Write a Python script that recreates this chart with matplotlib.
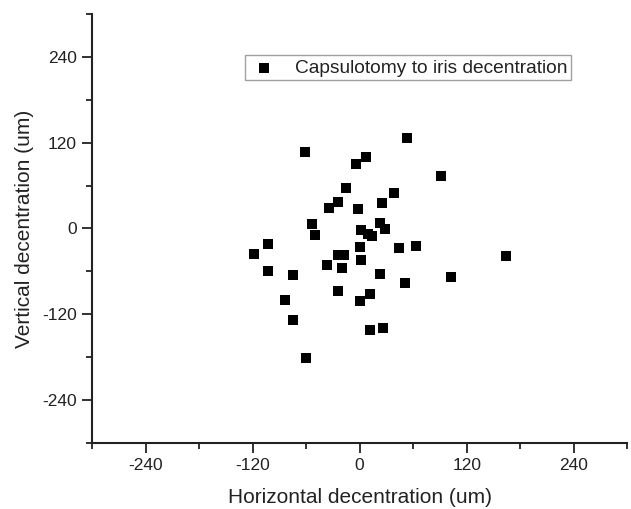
import matplotlib
matplotlib.use("Agg")
import matplotlib.pyplot as plt
from matplotlib.ticker import MultipleLocator

# capsulotomy centre relative to iris centre (um)
horiz = [-61, -4.5, 6.7, -15.6, -24.6, -34, -2.2, -53.6, -50, 1.5,
         9, 14, -102.7, 25, 23, 28, 53.6, 90.8, 38.7, -118,
         -103, -75, -83.7, -75, -60, -37, -24.5, -17.9, -19.3, -23.8,
         0.7, 1.5, 0.7, 12, 12, 44, 63, 164, 102, 22.7,
         51, 25.7]
vert = [107, 90, 100, 56.6, 37.4, 28.5, 26.7, 5.6, -9.4, -1.9,
        -7.5, -10, -22.5, 36, 8, -0.5, 126.8, 73, 50, -35.5,
        -59, -64.6, -99.6, -127.7, -181.5, -51, -37, -37, -55.7, -88,
        -26.2, -43.5, -101, -92, -142, -27, -24.8, -38.4, -68.3, -63.6,
        -76.7, -140]
ticks = [-240, -120, 0, 120, 240]

plt.rcParams['font.family'] = ['Liberation Sans', 'DejaVu Sans']
plt.rcParams['axes.unicode_minus'] = False

fig = plt.figure(figsize=(6.31, 5.09), dpi=100)
ax = fig.add_axes([0.146, 0.130, 0.848, 0.8425])

ax.scatter(horiz, vert, marker='s', s=46, color='black', linewidths=0,
           label='Capsulotomy to iris decentration', zorder=3)

ax.set_xlim(-300, 300)
ax.set_ylim(-300, 300)
ax.set_xticks(ticks)
ax.set_yticks(ticks)
ax.xaxis.set_minor_locator(MultipleLocator(60))
ax.yaxis.set_minor_locator(MultipleLocator(60))
ax.tick_params(which='major', direction='out', length=7, width=1.3,
               labelsize=12.5, pad=4, colors='#222222', labelcolor='#222222')
ax.tick_params(which='minor', direction='out', length=4, width=1.3, colors='#222222')

for side in ['top', 'right']:
    ax.spines[side].set_visible(False)
for side in ['left', 'bottom']:
    ax.spines[side].set_linewidth(1.5)
    ax.spines[side].set_color('#222222')

ax.set_xlabel('Horizontal decentration (um)', fontsize=15, labelpad=11, color='#222222')
ax.set_ylabel('Vertical decentration (um)', fontsize=15, labelpad=6, color='#222222')

leg = ax.legend(loc='upper left', bbox_to_anchor=(0.268, 0.926), fontsize=13.8,
                frameon=True, fancybox=False, handletextpad=0.8,
                borderpad=0.2, handlelength=1.6, markerscale=1.15)
leg.get_frame().set_edgecolor('#888888')
leg.get_frame().set_linewidth(1.0)
for t in leg.get_texts():
    t.set_color('#222222')

fig.savefig('out.png', dpi=100)
